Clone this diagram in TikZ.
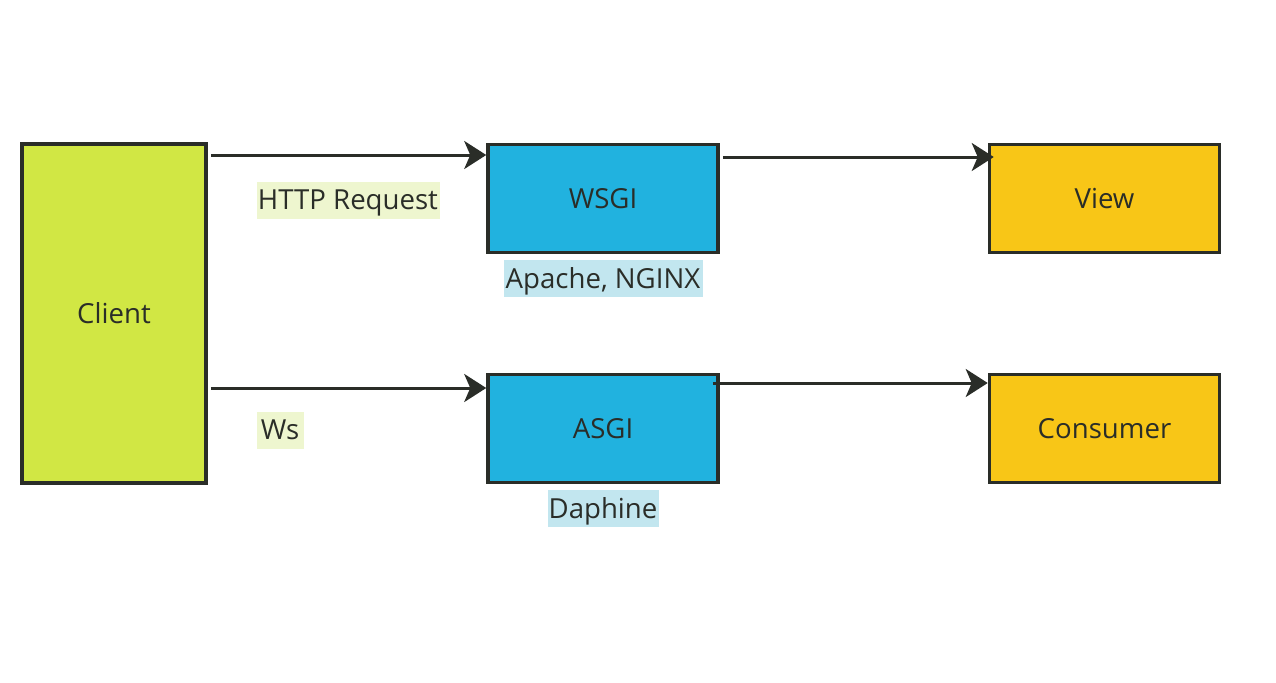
\documentclass[tikz,border=0pt]{standalone}
\usepackage{fontspec}
\setmainfont{Open Sans}
\usetikzlibrary{arrows.meta,positioning}
\definecolor{ink}{HTML}{2A2D28}
\definecolor{lime}{HTML}{D1E744}
\definecolor{sky}{HTML}{21B2DF}
\definecolor{amber}{HTML}{F8C617}
\definecolor{limetag}{HTML}{EEF6CF}
\definecolor{skytag}{HTML}{C2E6EF}
\begin{document}
\begin{tikzpicture}[x=0.5pt,y=-0.5pt,->,>={Stealth[length=11pt,width=14pt,inset=3pt]},line width=1.5pt,draw=ink,font=\fontsize{13.8}{15}\selectfont]
\tikzstyle{box}=[draw=ink,text=ink,line width=1.75pt,minimum width=115pt,minimum height=54pt,inner sep=0pt]
\tikzstyle{tag}=[text=ink,inner sep=0.5pt,minimum height=18.5pt,text depth=0pt]
\useasboundingbox (0,0) rectangle (1276,682);
\node[box,fill=lime,minimum width=92pt,minimum height=169.5pt] (client) at (114,313.5) {Client};
\node[box,fill=sky] (wsgi) at (603,198.5) {WSGI};
\node[box,fill=sky] (asgi) at (603,428.5) {ASGI};
\node[box,fill=amber] (view) at (1104.5,198.5) {View};
\node[box,fill=amber] (consumer) at (1104.5,428.5) {Consumer};
\node[tag,fill=limetag,anchor=west,minimum width=91.5pt] (http) at (255,200) {HTTP Request};
\node[tag,fill=limetag,anchor=west,minimum width=23.5pt] (ws) at (255,430) {Ws};
\node[tag,fill=skytag,below=2pt of wsgi,minimum width=99.5pt] (apache) {Apache, NGINX};
\node[tag,fill=skytag,below=2pt of asgi,minimum width=55.5pt] (daphne) {Daphine};
\draw ([xshift=1.5pt,yshift=79.25pt]client.east) -- ([yshift=21.75pt]wsgi.west);
\draw ([xshift=1.5pt,yshift=20.75pt]wsgi.east) -- ([xshift=3pt,yshift=20.75pt]view.west);
\draw ([xshift=1.5pt,yshift=-37.25pt]client.east) -- ([yshift=20.25pt]asgi.west);
\draw ([xshift=-3.5pt,yshift=22.75pt]asgi.east) -- ([yshift=22.75pt]consumer.west);
\end{tikzpicture}
\end{document}
